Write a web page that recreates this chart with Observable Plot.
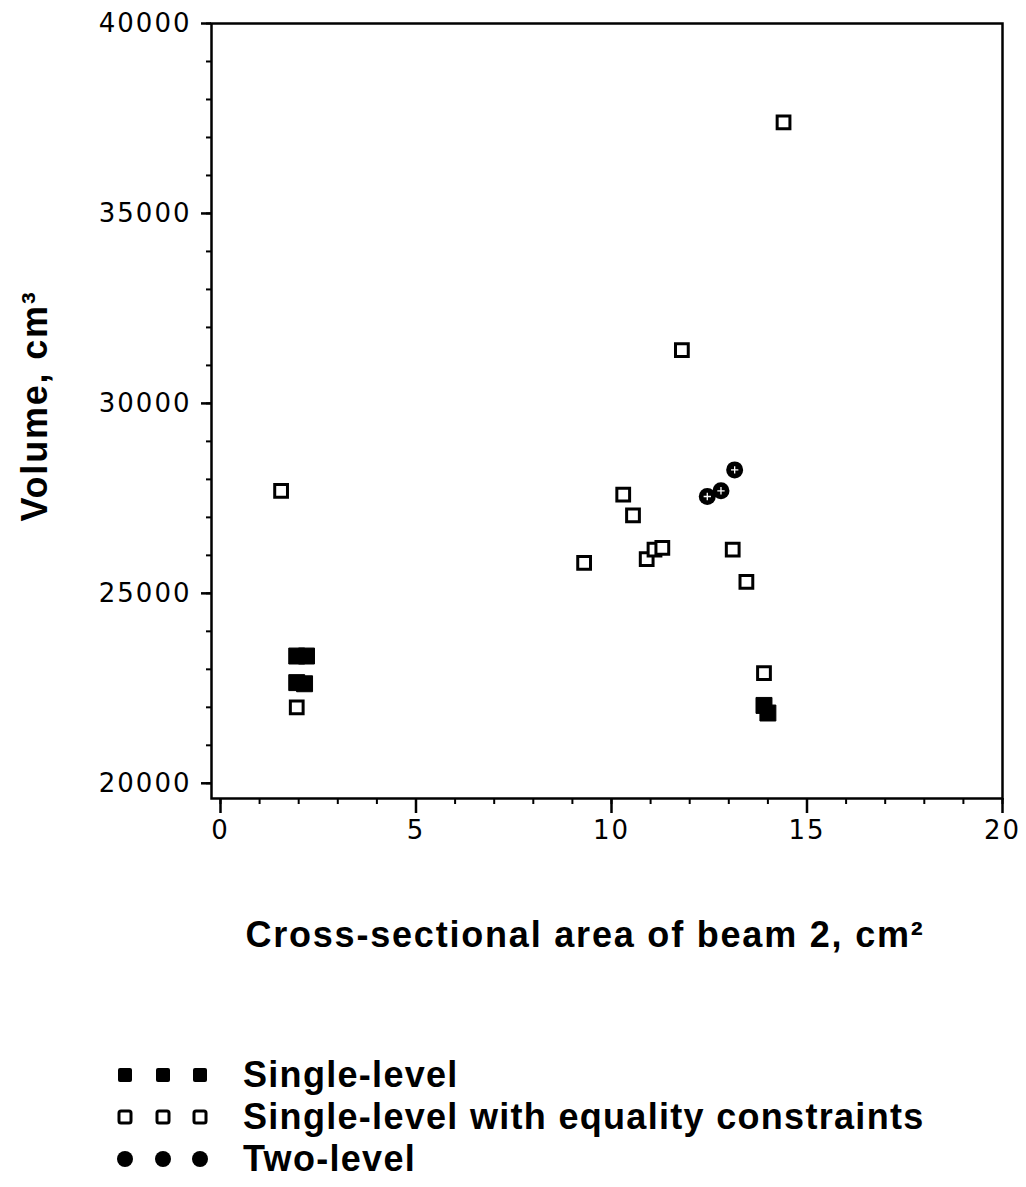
<!DOCTYPE html>
<html>
<head>
<meta charset="utf-8">
<script src="https://cdn.jsdelivr.net/npm/d3@7"></script>
<script src="https://cdn.jsdelivr.net/npm/@observablehq/plot@0.6"></script>
<style>
  body { margin: 0; background: #fff; }
  #chart svg { font-family: "DejaVu Sans", sans-serif; }
  #chart g[aria-label="y-axis tick label"], #chart g[aria-label="x-axis tick label"] { letter-spacing: 2px; }
  #chart g[font-weight="bold"] { letter-spacing: 1.8px; }
  #legend { padding-top: 74px; font-family: "Liberation Sans", Arial, sans-serif; font-weight: bold; font-size: 36px; letter-spacing: 1.3px; color: #000; }
  .row { display: flex; align-items: center; height: 42px; padding-left: 110px; }
  .row svg { flex: none; }
</style>
</head>
<body>
<div id="chart"></div>
<div id="legend"></div>
<script>
// ---- data ----
const eqX = [1.55, 1.95, 9.3, 10.3, 10.55, 10.9, 11.1, 11.3, 11.8, 14.4, 13.1, 13.45, 13.9];
const eqY = [27700, 22000, 25800, 27600, 27050, 25900, 26150, 26200, 31400, 37400, 26150, 25300, 22900];

const singleX = [1.95, 2.2, 1.95, 2.15, 13.9, 14.0];
const singleY = [23350, 23350, 22650, 22620, 22050, 21850];

const twoX = [12.45, 12.8, 13.15];
const twoY = [27550, 27700, 28250];

const xMajor = [0, 5, 10, 15, 20];
const xMinor = d3.range(0, 21, 1);
const yMajor = [20000, 25000, 30000, 35000, 40000];
const yMinor = d3.range(20000, 40001, 1000);

const xLabel = "Cross-sectional area of beam 2, cm\u00B2";
const yLabel = "Volume, cm\u00B3";
const legendLabels = ["Single-level", "Single-level with equality constraints", "Two-level"];
const legendKinds = ["filled", "open", "circle"];

// ---- tables ----
const eq = eqX.map((x, i) => ({x, y: eqY[i]}));
const single = singleX.map((x, i) => ({x, y: singleY[i]}));
const two = twoX.map((x, i) => ({x, y: twoY[i]}));

const chart = Plot.plot({
  width: 1026,
  height: 980,
  marginLeft: 211,
  marginRight: 24,
  marginTop: 23,
  marginBottom: 182,
  x: {domain: [-0.23, 20]},
  y: {domain: [19600, 40000]},
  style: {background: "#fff", color: "#000", overflow: "visible"},
  marks: [
    Plot.frame({stroke: "#000", strokeWidth: 2.5}),
    Plot.axisX({ticks: xMinor, tickSize: 6, text: null, label: null, strokeWidth: 2}),
    Plot.axisX({ticks: xMajor, tickSize: 15, tickPadding: 7, fontSize: 26, label: null, strokeWidth: 2.5}),
    Plot.axisY({ticks: yMinor, tickSize: 5, text: null, label: null, strokeWidth: 2}),
    Plot.axisY({ticks: yMajor, tickSize: 10, tickPadding: 10, fontSize: 26, label: null, strokeWidth: 2.5, tickFormat: d => String(d)}),
    Plot.dot(single, {x: "x", y: "y", symbol: "square", r: 9, fill: "#000", stroke: "#000", strokeWidth: 1}),
    Plot.dot(eq, {x: "x", y: "y", symbol: "square", r: 7.2, fill: "#fff", stroke: "#000", strokeWidth: 3}),
    Plot.dot(two, {x: "x", y: "y", r: 8.5, fill: "#000"}),
    Plot.dot(two, {x: "x", y: "y", symbol: "plus", r: 2.5, stroke: "#fff", strokeWidth: 1.3}),
    Plot.text([yLabel], {text: d => d, frameAnchor: "left", dx: -176, dy: -5, rotate: -90, textAnchor: "middle", lineAnchor: "middle", fontSize: 36, fontWeight: "bold", fontFamily: "Liberation Sans, Arial, sans-serif"}),
    Plot.text([xLabel], {text: d => d, frameAnchor: "bottom", dx: -22, dy: 137, textAnchor: "middle", lineAnchor: "middle", fontSize: 36, fontWeight: "bold", fontFamily: "Liberation Sans, Arial, sans-serif"})
  ]
});
document.getElementById("chart").appendChild(chart);

// ---- legend ----
const legend = document.getElementById("legend");
const ns = "http://www.w3.org/2000/svg";
legendLabels.forEach((label, i) => {
  const row = document.createElement("div");
  row.className = "row";
  const svg = document.createElementNS(ns, "svg");
  svg.setAttribute("width", 133);
  svg.setAttribute("height", 42);
  [15, 53, 90].forEach(cx => {
    let el;
    if (legendKinds[i] === "circle") {
      el = document.createElementNS(ns, "circle");
      el.setAttribute("cx", cx); el.setAttribute("cy", 21); el.setAttribute("r", 8);
      el.setAttribute("fill", "#000");
    } else {
      el = document.createElementNS(ns, "rect");
      const s = legendKinds[i] === "filled" ? 14 : 12;
      el.setAttribute("x", cx - s / 2); el.setAttribute("y", 21 - s / 2);
      el.setAttribute("width", s); el.setAttribute("height", s);
      el.setAttribute("rx", 2);
      if (legendKinds[i] === "filled") { el.setAttribute("fill", "#000"); }
      else { el.setAttribute("fill", "#fff"); el.setAttribute("stroke", "#000"); el.setAttribute("stroke-width", 3); }
    }
    svg.appendChild(el);
  });
  row.appendChild(svg);
  const span = document.createElement("span");
  span.textContent = label;
  row.appendChild(span);
  legend.appendChild(row);
});
</script>
</body>
</html>
